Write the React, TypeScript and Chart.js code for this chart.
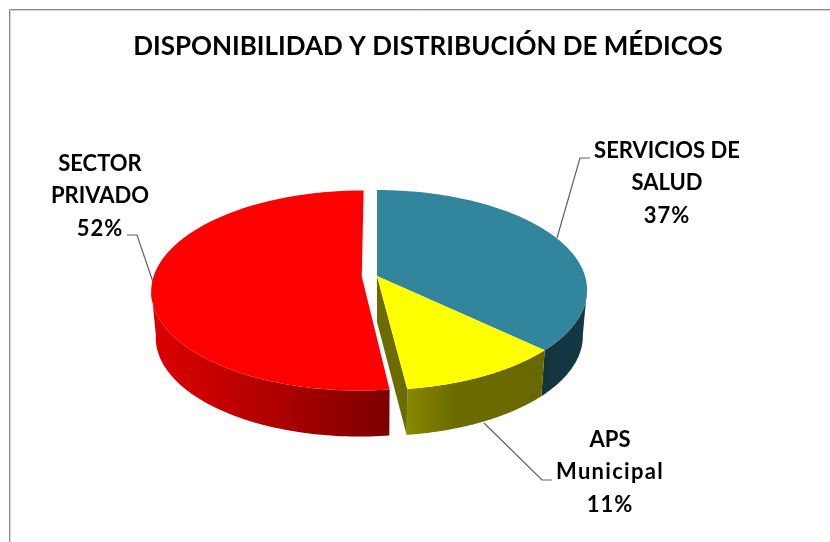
import React, { useEffect, useRef } from "react";
import { Chart, registerables } from "chart.js";

Chart.register(...registerables);

const TITLE = "DISPONIBILIDAD Y DISTRIBUCIÓN DE MÉDICOS";
const categories = ["SERVICIOS DE SALUD", "APS Municipal", "SECTOR PRIVADO"];
const shares = [37, 11, 52];
const explode = [0, 0, 17];
const topColors = ["#31859c", "#ffff00", "#ff0000"];
const labelLines = [
  ["SERVICIOS DE", "SALUD", "37%"],
  ["APS", "Municipal", "11%"],
  ["SECTOR", "PRIVADO", "52%"],
];

const FONT = "Lato, Carlito, sans-serif";

// view of the tilted disc
const VIEW = { x0: 377, y0: 276, ax: 208, ay: 98, persp: 0.14, depth: 46, shrink: 0.98 };

function project(u: number, v: number, low = false) {
  const w = 1 - VIEW.persp * v;
  let x = VIEW.x0 + (VIEW.ax * u) / w;
  let y = VIEW.y0 + (VIEW.ay * v) / w;
  if (low) {
    x = VIEW.x0 + (x - VIEW.x0) * VIEW.shrink;
    y += VIEW.depth;
  }
  return { x, y };
}

function arcPoints(el: any, low = false, frontOnly = false) {
  const p = el.getProps(["startAngle", "endAngle", "outerRadius"], true);
  const offset = (el.options.offset || 0) / p.outerRadius;
  const mid = (p.startAngle + p.endAngle) / 2;
  const cu = offset * Math.cos(mid);
  const cv = offset * Math.sin(mid);
  const pts: { x: number; y: number }[] = [];
  const n = 160;
  for (let i = 0; i <= n; i++) {
    const a = p.startAngle + ((p.endAngle - p.startAngle) * i) / n;
    if (frontOnly && Math.sin(a) < 0.12) continue;
    pts.push(project(cu + Math.cos(a), cv + Math.sin(a), low));
  }
  return { pts, apex: project(cu, cv, low) };
}

function poly(ctx: CanvasRenderingContext2D, pts: { x: number; y: number }[], fill: any) {
  ctx.beginPath();
  pts.forEach((q, i) => (i ? ctx.lineTo(q.x, q.y) : ctx.moveTo(q.x, q.y)));
  ctx.closePath();
  ctx.fillStyle = fill;
  ctx.fill();
}

function wallGrad(ctx: CanvasRenderingContext2D, x1: number, x2: number, stops: [number, string][]) {
  const g = ctx.createLinearGradient(x1, 0, x2, 0);
  stops.forEach(([o, c]) => g.addColorStop(o, c));
  return g;
}

const pie3d = {
  id: "pie3d",
  beforeDatasetDraw(chart: any, args: any) {
    const ctx: CanvasRenderingContext2D = chart.ctx;
    const arcs = args.meta.data;
    ctx.save();

    const walls = [
      wallGrad(ctx, 540, 590, [[0, "#12343f"], [1, "#143a45"]]),
      wallGrad(ctx, 405, 545, [[0, "#8a8a00"], [0.35, "#6b6b00"], [1, "#686800"]]),
      wallGrad(ctx, 155, 392, [[0, "#dc0000"], [0.5, "#b00000"], [1, "#7a0000"]]),
    ];

    [0, 2, 1].forEach((i) => {
      const top = arcPoints(arcs[i], false, true);
      const low = arcPoints(arcs[i], true, true);
      poly(ctx, [...top.pts, ...low.pts.slice().reverse()], walls[i]);
    });

    // cut side of the small slice, seen through the gap
    const yTop = arcPoints(arcs[1]);
    const yLow = arcPoints(arcs[1], true);
    poly(
      ctx,
      [yTop.apex, yTop.pts[yTop.pts.length - 1], yLow.pts[yLow.pts.length - 1], yLow.apex],
      "#6b6b00"
    );

    // top faces
    [0, 1, 2].forEach((i) => {
      const top = arcPoints(arcs[i]);
      poly(ctx, [top.apex, ...top.pts], arcs[i].options.backgroundColor);
    });

    ctx.restore();
    return false;
  },
  afterDraw(chart: any) {
    const ctx: CanvasRenderingContext2D = chart.ctx as any;
    ctx.save();
    // frame
    ctx.strokeStyle = "#d4d4d4";
    ctx.lineWidth = 1;
    ctx.beginPath();
    ctx.moveTo(10.5, 542);
    ctx.lineTo(10.5, 10.5);
    ctx.lineTo(830, 10.5);
    ctx.stroke();
    ctx.strokeStyle = "#8c8c8c";
    ctx.beginPath();
    ctx.moveTo(9.5, 542);
    ctx.lineTo(9.5, 9.5);
    ctx.lineTo(830, 9.5);
    ctx.stroke();

    // leader lines
    ctx.strokeStyle = "#5f5f5f";
    ctx.lineWidth = 1.2;
    const leaders = [
      [[590, 158], [580, 158], [557, 238]],
      [[552, 480], [542, 480], [484, 423]],
      [[127, 235], [137, 235], [153, 282]],
    ];
    leaders.forEach((l) => {
      ctx.beginPath();
      l.forEach(([x, y], i) => (i ? ctx.lineTo(x, y) : ctx.moveTo(x, y)));
      ctx.stroke();
    });

    // data labels
    const anchors = [
      [667, 150.5],
      [610, 439.5],
      [100, 163.5],
    ];
    ctx.fillStyle = "#000000";
    ctx.font = `bold 22px ${FONT}`;
    ctx.textAlign = "center";
    ctx.textBaseline = "middle";
    labelLines.forEach((lines, i) => {
      lines.forEach((t, j) => {
        (ctx as any).letterSpacing = /[a-z]/.test(t) ? "1.3px" : /%/.test(t) ? "1px" : "0px";
        ctx.fillText(t, anchors[i][0], anchors[i][1] + j * 32.5);
      });
    });
    ctx.restore();
  },
};

export default function App() {
  const ref = useRef<HTMLCanvasElement>(null);
  useEffect(() => {
    document.body.style.margin = "0";
    const chart = new Chart(ref.current!, {
      type: "pie",
      data: {
        labels: categories,
        datasets: [{ data: shares, backgroundColor: topColors, offset: explode, borderWidth: 0 }],
      },
      options: {
        responsive: false,
        animation: false,
        layout: { padding: { left: 26 } },
        plugins: {
          legend: { display: false },
          tooltip: { enabled: false },
          title: {
            display: true,
            text: TITLE,
            color: "#000000",
            font: { family: FONT, size: 26, weight: "bold" },
            padding: { top: 31, bottom: 0 },
          },
        },
      },
      plugins: [pie3d],
    } as any);
    return () => chart.destroy();
  }, []);
  return <canvas ref={ref} width={830} height={542} style={{ display: "block" }} />;
}
